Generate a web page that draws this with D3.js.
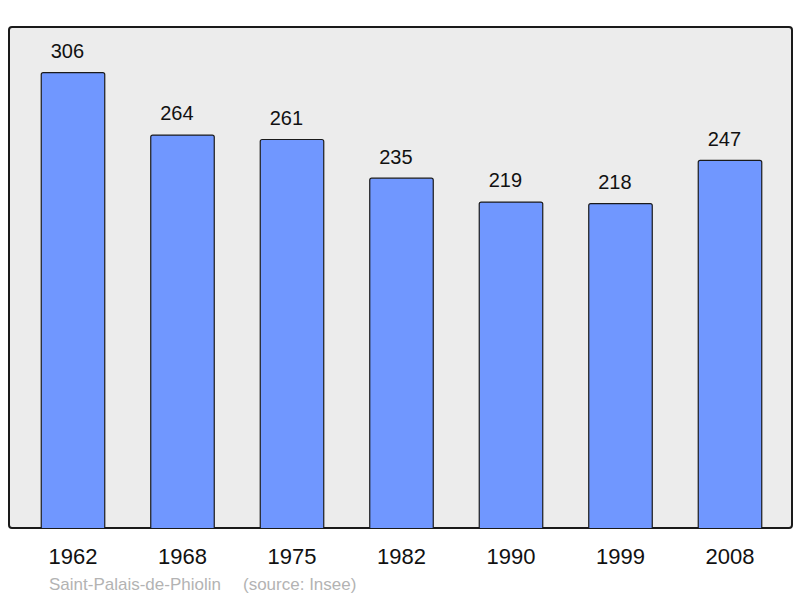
<!DOCTYPE html>
<html><head><meta charset="utf-8">
<script src="https://cdn.jsdelivr.net/npm/d3@7/dist/d3.min.js"></script>
<style>body{margin:0;background:#fff}svg{display:block}</style>
</head><body>
<svg id="c" width="800" height="598"></svg>
<script>
const years = ["1962","1968","1975","1982","1990","1999","2008"];
const population = [306,264,261,235,219,218,247];
const townName = "Saint-Palais-de-Phiolin";
const sourceNote = "(source: Insee)";

const svg = d3.select("#c");
const font = "'Liberation Sans', Arial, sans-serif";
const panel = {x0: 9, y0: 27, x1: 792, y1: 528};

svg.append("rect").attr("x", panel.x0).attr("y", panel.y0)
  .attr("width", panel.x1 - panel.x0).attr("height", panel.y1 - panel.y0)
  .attr("rx", 3).attr("fill", "#ececec").attr("stroke", "#1a1a1a").attr("stroke-width", 2);

const x = d3.scaleBand().domain(years).range([18.25, 784.75]).paddingInner(0.42).paddingOuter(0.21);
const y = d3.scaleLinear().domain([0, 306 * 1.1]).range([panel.y1, panel.y0]);

const g = svg.append("g");
g.selectAll("path.bar").data(population).join("path")
  .attr("class", "bar")
  .attr("d", (d, i) => {
    const x0 = x(years[i]), w = x.bandwidth(), top = y(d), bot = y(0), r = 2;
    return `M${x0},${bot}V${top + r}Q${x0},${top} ${x0 + r},${top}H${x0 + w - r}Q${x0 + w},${top} ${x0 + w},${top + r}V${bot}`;
  })
  .attr("fill", "#7097ff").attr("stroke", "#1a1a1a").attr("stroke-width", 1.2);

g.selectAll("text.val").data(population).join("text")
  .attr("class", "val")
  .attr("x", (d, i) => x(years[i]) + 9.5)
  .attr("y", d => y(d) - 14.7)
  .attr("text-anchor", "start").attr("font-family", font).attr("font-size", 20).attr("fill", "#111")
  .text(d => d);

const xAxis = d3.axisBottom(x).tickSize(0).tickPadding(0);
const ax = svg.append("g").attr("transform", `translate(0,${panel.y1})`).call(xAxis);
ax.select(".domain").remove();
ax.selectAll("text").attr("font-family", font).attr("font-size", 22).attr("fill", "#111")
  .attr("dy", null).attr("y", 36);

svg.append("text").attr("x", 49).attr("y", 590).attr("font-family", font).attr("font-size", 17)
  .attr("fill", "#b3b3b3").text(townName);
svg.append("text").attr("x", 243).attr("y", 590).attr("font-family", font).attr("font-size", 17)
  .attr("fill", "#b3b3b3").text(sourceNote);
</script>
</body></html>
